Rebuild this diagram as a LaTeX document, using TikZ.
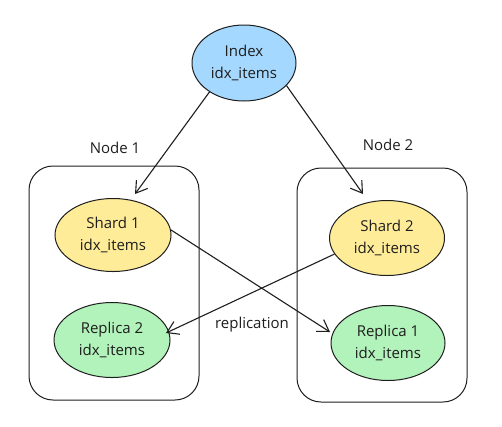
\documentclass[tikz,border=0pt]{standalone}
\usepackage{fontspec}
\setmainfont{Open Sans}
\usetikzlibrary{arrows.meta,shapes.geometric}
\definecolor{ink}{HTML}{1E1E1E}
\definecolor{idxblue}{HTML}{A5D8FF}
\definecolor{shardy}{HTML}{FFEC99}
\definecolor{repg}{HTML}{B2F2BB}
\tikzset{
  blob/.style={ellipse, draw=ink, line width=1pt, inner sep=0pt, align=center, font=\fontsize{15}{22}\selectfont, text=ink},
  hostbox/.style={draw=ink, line width=1pt, rounded corners=24pt},
  lbl/.style={font=\fontsize{15}{18}\selectfont, text=ink},
  conn/.style={draw=ink, line width=1.1pt, -{Straight Barb[length=11pt,width=14pt,line width=1.1pt]}},
}
\begin{document}
\begin{tikzpicture}[x=1pt,y=-1pt]
\useasboundingbox (0,0) rectangle (502,426);
% host boxes
\draw[hostbox] (29,166) rectangle (199,400);
\draw[hostbox] (297,168) rectangle (467,402);
\node[lbl] (n1) at (115,148) {Node 1};
\node[lbl] (n2) at (388,145) {Node 2};
% ellipses
\node[blob, fill=idxblue, minimum width=104pt, minimum height=76pt] (idx) at (244,63) {Index\\idx\_items};
\node[blob, fill=shardy, minimum width=116pt, minimum height=73pt] (s1) at (113,235) {Shard 1\\idx\_items};
\node[blob, fill=repg, minimum width=116pt, minimum height=75pt] (r2) at (112,340) {Replica 2\\idx\_items};
\node[blob, fill=shardy, minimum width=115pt, minimum height=75pt] (s2) at (387,238) {Shard 2\\idx\_items};
\node[blob, fill=repg, minimum width=114pt, minimum height=75pt] (r1) at (388,343) {Replica 1\\idx\_items};
% arrow targets
\coordinate (t1) at (135,194);
\coordinate (t2) at (363,194);
\coordinate (t3) at (330,332);
\coordinate (t4) at (166,333);
% connectors
\draw[conn] (idx.-140) -- (t1);
\draw[conn] (idx.-28) -- (t2);
\draw[conn] (s1.5) -- (t3);
\draw[conn] (s2.-163) -- (t4);
\node[lbl] (rep) at (252,325) {replication};
\end{tikzpicture}
\end{document}
